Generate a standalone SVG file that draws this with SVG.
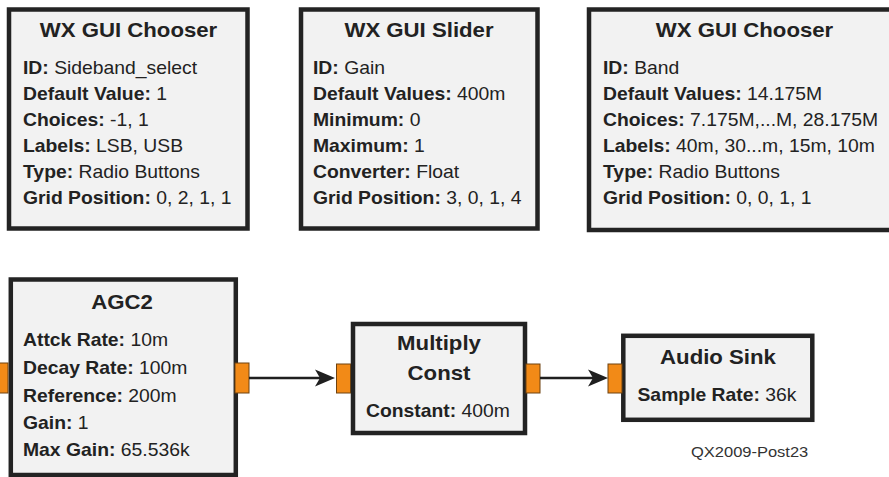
<svg xmlns="http://www.w3.org/2000/svg" width="889" height="477" viewBox="0 0 889 477">
  <style>
    .box { fill: #f2f2f2; stroke: #232323; stroke-width: 4.5; }
    .port { fill: #f28a17; stroke: #6e4210; stroke-width: 1; }
    .wire { stroke: #1f1f1f; stroke-width: 2.5; fill: none; }
    text { font-family: "Liberation Sans", Arial, sans-serif; fill: #222; }
    .t { font-size: 20px; font-weight: bold; text-anchor: middle; }
    .p { font-size: 18px; }
    .k { font-weight: bold; }
    .note { font-size: 15px; fill: #333; }
  </style>
  <defs>
    <marker id="arrow" markerUnits="userSpaceOnUse" viewBox="-10 -10 24 20" refX="0" refY="0" markerWidth="24" markerHeight="20" orient="auto">
      <path d="M12,0 L-8,-8.5 L-3,0 L-8,8.5 Z" fill="#1f1f1f"/>
    </marker>
  </defs>
  <rect width="889" height="477" fill="#ffffff"/>

  <!-- Sideband chooser -->
  <g id="chooser_sideband">
    <rect class="box" x="9" y="9.5" width="238.5" height="219"/>
    <text class="t" transform="translate(128.5 37) scale(1.11 1)">WX GUI Chooser</text>
    <text class="p" transform="translate(23 74) scale(1.075 1)"><tspan class="k">ID:</tspan> Sideband_select</text>
    <text class="p" transform="translate(23 100) scale(1.075 1)"><tspan class="k">Default Value:</tspan> 1</text>
    <text class="p" transform="translate(23 126) scale(1.075 1)"><tspan class="k">Choices:</tspan> -1, 1</text>
    <text class="p" transform="translate(23 152) scale(1.075 1)"><tspan class="k">Labels:</tspan> LSB, USB</text>
    <text class="p" transform="translate(23 178) scale(1.075 1)"><tspan class="k">Type:</tspan> Radio Buttons</text>
    <text class="p" transform="translate(23 204) scale(1.075 1)"><tspan class="k">Grid Position:</tspan> 0, 2, 1, 1</text>
  </g>

  <!-- Gain slider -->
  <g id="slider_gain">
    <rect class="box" x="301" y="9.5" width="236.5" height="219"/>
    <text class="t" transform="translate(419 37) scale(1.11 1)">WX GUI Slider</text>
    <text class="p" transform="translate(313 74) scale(1.075 1)"><tspan class="k">ID:</tspan> Gain</text>
    <text class="p" transform="translate(313 100) scale(1.075 1)"><tspan class="k">Default Values:</tspan> 400m</text>
    <text class="p" transform="translate(313 126) scale(1.075 1)"><tspan class="k">Minimum:</tspan> 0</text>
    <text class="p" transform="translate(313 152) scale(1.075 1)"><tspan class="k">Maximum:</tspan> 1</text>
    <text class="p" transform="translate(313 178) scale(1.075 1)"><tspan class="k">Converter:</tspan> Float</text>
    <text class="p" transform="translate(313 204) scale(1.075 1)"><tspan class="k">Grid Position:</tspan> 3, 0, 1, 4</text>
  </g>

  <!-- Band chooser -->
  <g id="chooser_band">
    <rect class="box" x="589" y="9.5" width="312" height="220.5"/>
    <text class="t" transform="translate(744.5 37) scale(1.11 1)">WX GUI Chooser</text>
    <text class="p" transform="translate(603 74) scale(1.075 1)"><tspan class="k">ID:</tspan> Band</text>
    <text class="p" transform="translate(603 100) scale(1.075 1)"><tspan class="k">Default Values:</tspan> 14.175M</text>
    <text class="p" transform="translate(603 126) scale(1.075 1)"><tspan class="k">Choices:</tspan> 7.175M,...M, 28.175M</text>
    <text class="p" transform="translate(603 152) scale(1.075 1)"><tspan class="k">Labels:</tspan> 40m, 30...m, 15m, 10m</text>
    <text class="p" transform="translate(603 178) scale(1.075 1)"><tspan class="k">Type:</tspan> Radio Buttons</text>
    <text class="p" transform="translate(603 204) scale(1.075 1)"><tspan class="k">Grid Position:</tspan> 0, 0, 1, 1</text>
  </g>

  <!-- AGC2 block -->
  <g id="agc2">
    <rect class="box" x="10.8" y="279.5" width="225" height="195.5"/>
    <rect class="port" x="-6" y="363" width="14" height="30"/>
    <rect class="port" x="235" y="363" width="14" height="30"/>
    <text class="t" transform="translate(122 309) scale(1.11 1)">AGC2</text>
    <text class="p" transform="translate(23 346) scale(1.075 1)"><tspan class="k">Attck Rate:</tspan> 10m</text>
    <text class="p" transform="translate(23 374) scale(1.075 1)"><tspan class="k">Decay Rate:</tspan> 100m</text>
    <text class="p" transform="translate(23 402) scale(1.075 1)"><tspan class="k">Reference:</tspan> 200m</text>
    <text class="p" transform="translate(23 429) scale(1.075 1)"><tspan class="k">Gain:</tspan> 1</text>
    <text class="p" transform="translate(23 456) scale(1.075 1)"><tspan class="k">Max Gain:</tspan> 65.536k</text>
  </g>

  <!-- Multiply Const block -->
  <g id="multiply_const">
    <rect class="box" x="353" y="324" width="172" height="109"/>
    <rect class="port" x="336.5" y="364" width="14" height="29"/>
    <rect class="port" x="526" y="364" width="14" height="29"/>
    <text class="t" transform="translate(439 350) scale(1.11 1)">Multiply</text>
    <text class="t" transform="translate(439 380) scale(1.11 1)">Const</text>
    <text class="p" transform="translate(438 417) scale(1.075 1)" text-anchor="middle"><tspan class="k">Constant:</tspan> 400m</text>
  </g>

  <!-- Audio Sink block -->
  <g id="audio_sink">
    <rect class="box" x="623.3" y="335.8" width="189" height="84"/>
    <rect class="port" x="608" y="364" width="14" height="29"/>
    <text class="t" transform="translate(718 364) scale(1.11 1)">Audio Sink</text>
    <text class="p" transform="translate(717 401) scale(1.075 1)" text-anchor="middle"><tspan class="k">Sample Rate:</tspan> 36k</text>
  </g>

  <!-- Signal flow -->
  <g id="connectors">
    <line class="wire" x1="249" y1="378" x2="323" y2="378" marker-end="url(#arrow)"/>
    <line class="wire" x1="540" y1="378" x2="596" y2="378" marker-end="url(#arrow)"/>
  </g>

  <text class="note" transform="translate(691 457) scale(1.1 1)">QX2009-Post23</text>
</svg>
